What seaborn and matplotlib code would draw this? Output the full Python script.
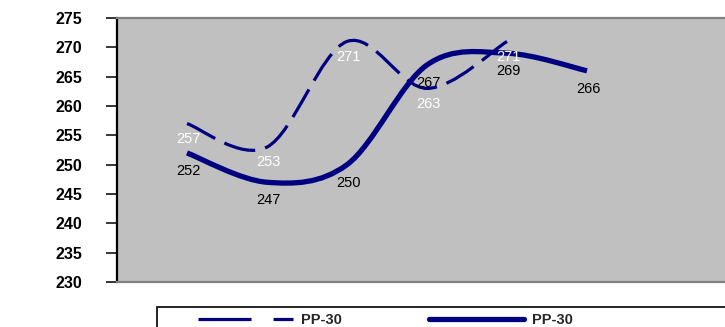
import numpy as np
import pandas as pd
import seaborn as sns
import matplotlib
matplotlib.use("Agg")
import matplotlib.pyplot as plt
from matplotlib.path import Path
from matplotlib.patches import PathPatch, Rectangle
from matplotlib.lines import Line2D

# Series values
dashed_vals = [257, 253, 271, 263, 271]
solid_vals = [252, 247, 250, 267, 269, 266]
series_names = ["PP-30", "PP-30"]
y_ticks = [230, 235, 240, 245, 250, 255, 260, 265, 270, 275]

NAVY = "#000080"
PLOT_BG = "#C0C0C0"
FONT = ["Liberation Sans", "DejaVu Sans"]

sns.set_theme(style="white")
plt.rcParams["font.family"] = FONT

W, H = 725, 327
fig = plt.figure(figsize=(W / 100, H / 100), dpi=100)
fig.patch.set_facecolor("white")

# plot area in pixel terms: left 117, top 18, bottom 282, runs off the right edge
ax = fig.add_axes([117 / W, 1 - 282 / H, (W - 117) / W, (282 - 18) / H])
ax.set_facecolor(PLOT_BG)

dash_df = pd.DataFrame({"x": np.arange(len(dashed_vals)), "y": dashed_vals})
solid_df = pd.DataFrame({"x": np.arange(len(solid_vals)), "y": solid_vals})

# register the points on the axes (the visible strokes are the smoothed paths below)
sns.lineplot(data=dash_df, x="x", y="y", ax=ax, linewidth=0, legend=False)
sns.lineplot(data=solid_df, x="x", y="y", ax=ax, linewidth=0, legend=False)


def smooth_path(xs, ys):
    """Cubic Bezier path through the points (Catmull-Rom style tangents)."""
    pts = np.column_stack([xs, ys]).astype(float)
    n = len(pts)
    verts = [pts[0]]
    codes = [Path.MOVETO]
    for i in range(n - 1):
        p0 = pts[i - 1] if i > 0 else pts[i]
        p1 = pts[i]
        p2 = pts[i + 1]
        p3 = pts[i + 2] if i + 2 < n else pts[i + 1]
        c1 = p1 + (p2 - p0) / 6.0
        c2 = p2 - (p3 - p1) / 6.0
        verts += [c1, c2, p2]
        codes += [Path.CURVE4] * 3
    return Path(verts, codes)


dash_style = (0, (10, 3.2))
ax.add_patch(PathPatch(smooth_path(dash_df["x"], dash_df["y"]), fill=False,
                       edgecolor=NAVY, linewidth=2.3, linestyle=dash_style,
                       capstyle="butt", zorder=3))
ax.add_patch(PathPatch(smooth_path(solid_df["x"], solid_df["y"]), fill=False,
                       edgecolor=NAVY, linewidth=3.8, capstyle="butt",
                       joinstyle="round", zorder=3))

# value labels below each point
for xv, yv in zip(dash_df["x"], dash_df["y"]):
    ax.annotate(f"{yv}", (xv, yv), xytext=(1, -11), textcoords="offset points",
                ha="center", va="center", color="white", fontsize=10.5,
                family=FONT, zorder=5)
for xv, yv in zip(solid_df["x"], solid_df["y"]):
    ax.annotate(f"{yv}", (xv, yv), xytext=(1, -13), textcoords="offset points",
                ha="center", va="center", color="black", fontsize=10.5,
                family=FONT, zorder=5)

# scales: 80 px per category, first category 70 px in from the axis
ax.set_xlim(-70 / 80, -70 / 80 + (W - 117) / 80)
ax.set_ylim(230, 275)
ax.set_yticks(y_ticks)
ax.set_yticklabels([str(t) for t in y_ticks], fontsize=11.5, fontweight="bold",
                   family=FONT)
ax.set_xticks([])
ax.set_xlabel("")
ax.set_ylabel("")
ax.tick_params(axis="y", direction="out", length=8, width=1.1, pad=17,
               colors="black", left=True)

for side in ["top", "bottom"]:
    ax.spines[side].set_color("#808080")
    ax.spines[side].set_linewidth(1.6)
ax.spines["left"].set_color("black")
ax.spines["left"].set_linewidth(1.6)
ax.spines["right"].set_visible(False)

# legend box (runs past the bottom and right edges)
fig.patches.append(Rectangle((157 / W, -0.2), 1.0, (1 - 307 / H) + 0.2,
                             transform=fig.transFigure, fill=False,
                             edgecolor="black", linewidth=1.2))
handles = [
    Line2D([], [], color=NAVY, linewidth=2.3,
           linestyle=(0, (16.6, 6.9, 6.3, 10))),
    Line2D([], [], color=NAVY, linewidth=3.8),
]
fig.legend(handles, series_names, loc="center left",
           bbox_to_anchor=(198 / W, 1 - 320 / H), ncol=2, frameon=False,
           handlelength=6.5, handletextpad=0.55, columnspacing=6.0,
           borderpad=0.0, borderaxespad=0.0,
           prop={"family": FONT, "size": 10.5, "weight": "bold"})

fig.savefig("out.png", dpi=100, facecolor="white")
